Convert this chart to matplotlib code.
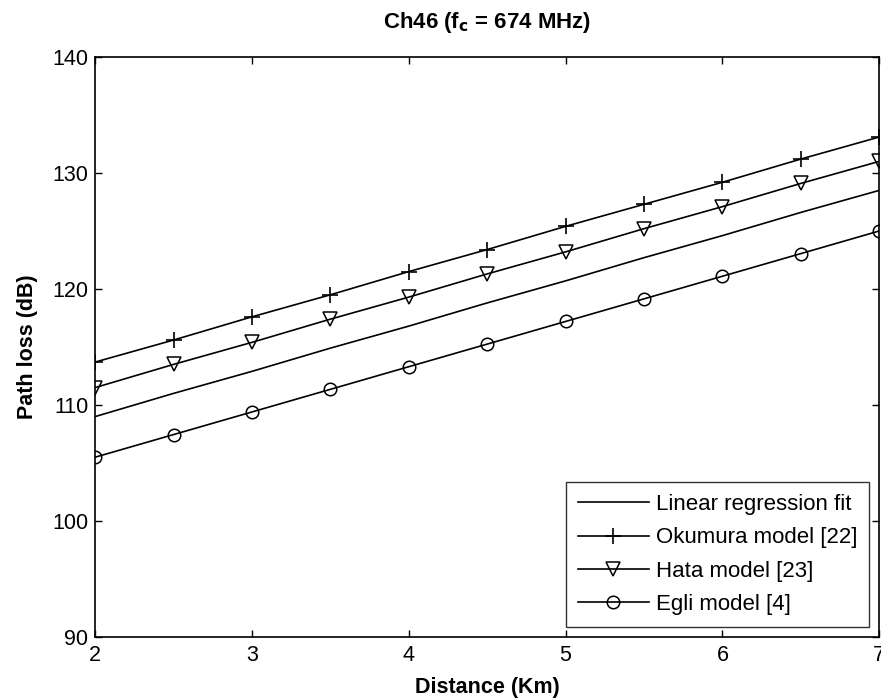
import numpy as np
import matplotlib
matplotlib.use('Agg')
import matplotlib.pyplot as plt

# distance (km) and path loss (dB)
distance = [2, 2.5, 3, 3.5, 4, 4.5, 5, 5.5, 6, 6.5, 7]
linear_fit = [109.0, 111.0, 112.9, 114.9, 116.8, 118.8, 120.7, 122.7, 124.6, 126.6, 128.5]
okumura = [113.7, 115.6, 117.6, 119.5, 121.5, 123.4, 125.4, 127.3, 129.2, 131.2, 133.1]
hata = [111.5, 113.5, 115.4, 117.4, 119.3, 121.3, 123.2, 125.2, 127.1, 129.1, 131.0]
egli = [105.5, 107.45, 109.4, 111.35, 113.3, 115.25, 117.2, 119.15, 121.1, 123.05, 125.0]

plt.rcParams['font.family'] = ['Liberation Sans', 'DejaVu Sans']

fig = plt.figure(figsize=(8.81, 7.0), dpi=100)
ax = fig.add_axes([0.108, 0.09, 0.890, 0.8286])

ax.plot(distance, linear_fit, 'k-', lw=1.2, label='Linear regression fit')
ax.plot(distance, okumura, 'k-', marker='+', ms=11, mew=1.2, lw=1.2, label='Okumura model [22]')
ax.plot(distance, hata, 'k-', marker='v', ms=10, mfc='none', mew=1.1, lw=1.2, label='Hata model [23]')
ax.plot(distance, egli, 'k-', marker='o', ms=9, mfc='none', mew=1.1, lw=1.2, label='Egli model [4]')

ax.set_xlim(2, 7)
ax.set_ylim(90, 140)
ax.set_xticks([2, 3, 4, 5, 6, 7])
ax.set_yticks([90, 100, 110, 120, 130, 140])
ax.tick_params(direction='in', top=True, right=True, labelsize=15.5, length=5, width=1)
ax.tick_params(axis='x', pad=6)
ax.tick_params(axis='y', pad=5)
for s in ax.spines.values():
    s.set_linewidth(1.2)

ax.set_xlabel('Distance (Km)', fontsize=15.5, fontweight='bold', labelpad=8)
ax.set_ylabel('Path loss (dB)', fontsize=15.5, fontweight='bold', labelpad=10)
ax.set_title(r'Ch46 (f$_\mathbf{c}$ = 674 MHz)', fontsize=16, fontweight='bold', pad=21)

leg = ax.legend(loc='lower right', fontsize=16, frameon=True, fancybox=False,
                edgecolor='black', borderaxespad=0.45, handlelength=3.2,
                labelspacing=0.55, handletextpad=0.3, borderpad=0.55)
leg.get_frame().set_linewidth(1.0)

fig.savefig('out.png', dpi=100)
